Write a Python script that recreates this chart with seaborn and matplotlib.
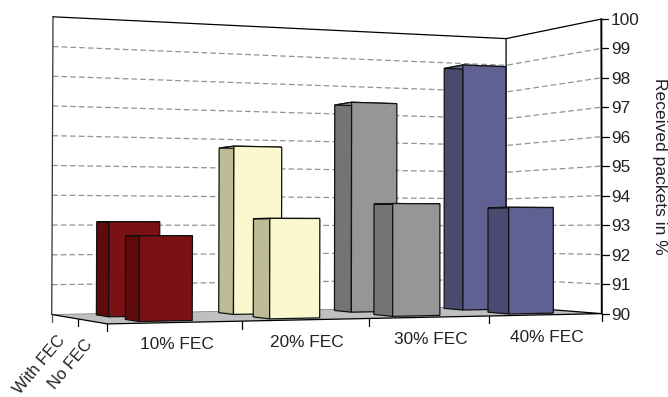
import numpy as np
import pandas as pd
import matplotlib
matplotlib.use("Agg")
import matplotlib.pyplot as plt
from matplotlib.patches import Polygon
from matplotlib.transforms import Transform
import seaborn as sns

# values
fec_labels = ["10% FEC", "20% FEC", "30% FEC", "40% FEC"]
with_fec = [93.1, 95.65, 97.25, 98.7]
no_fec = [92.65, 93.2, 93.7, 93.6]
depth_labels = ["With FEC", "No FEC"]
y_ticks = list(range(90, 101))

face_colors = ["#7b1113", "#fbf7ce", "#969696", "#606093"]
side_colors = ["#5f0a0c", "#bdbc97", "#747474", "#4a4a70"]
edge = "#111111"
text_color = "#222222"

sns.set_theme(style="white")
plt.rcParams["font.family"] = ["Liberation Sans", "DejaVu Sans"]

# camera: known box points (category, depth, value) -> pixel, fitted once
anchors = [
    (-0.5, 1, 90, 52, 314), (-0.5, 1, 100, 53, 17),
    (3.5, 1, 90, 506, 307), (3.5, 1, 100, 506, 38),
    (3.5, 0, 90, 601.5, 313), (3.5, 0, 100, 601.5, 19.5),
    (-0.5, 0, 90, 107, 324), (0.5, 0, 90, 242, 321.5),
    (1.5, 0, 90, 370, 318.5), (2.5, 0, 90, 489, 315.7),
]


def fit_camera(points):
    rows = []
    for x, d, z, u, v in points:
        p = [x, d, (z - 90) / 10, 1]
        rows.append(p + [0] * 4 + [-u / 100 * c for c in p])
        rows.append([0] * 4 + p + [-v / 100 * c for c in p])
    return np.linalg.svd(np.array(rows, dtype=float))[2][-1].reshape(3, 4)


camera = fit_camera(anchors)


def project(x, d, z):
    x, d, z = np.broadcast_arrays(np.asarray(x, float), np.asarray(d, float), np.asarray(z, float))
    p = np.stack([x, d, (z - 90) / 10, np.ones_like(x)], axis=-1)
    q = p @ camera.T
    return q[..., :2] / q[..., 2:] * 100


class FrontPlane(Transform):
    input_dims = 2
    output_dims = 2

    def __init__(self, bar_depth):
        super().__init__()
        self.bar_depth = bar_depth

    def transform_non_affine(self, values):
        values = np.asarray(values)
        return project(values[:, 0], self.bar_depth, values[:, 1])


fig = plt.figure(figsize=(6.68, 3.97), dpi=100)
ax = fig.add_axes([0, 0, 1, 1], zorder=0)
ax.set_xlim(0, 668)
ax.set_ylim(397, 0)
ax.axis("off")

# floor
floor = project([-0.5, 3.5, 3.5, -0.5], [1, 1, 0, 0], 90)
ax.add_patch(Polygon(floor, facecolor="#c0c0c0", edgecolor="none"))
ax.plot(*project([-0.5, 3.5], 1, 90).T, color="#777777", lw=0.5)
ax.plot(*project([-0.5, -0.5, 3.5, 3.5], [1, 0, 0, 1], 90).T, color="black", lw=0.9)

# gridlines on both walls
for z in y_ticks[1:-1]:
    ax.plot(*project([-0.5, 3.5, 3.5], [1, 1, 0], z).T, color="#929292", lw=0.9, ls=(0, (4.5, 2.5)))

# wall outline
ax.plot(*project([-0.5, -0.5], 1, [90, 100]).T, color="#333333", lw=0.9)
ax.plot(*project([-0.5, 3.5, 3.5, 3.5], [1, 1, 0, 0], [100, 100, 100, 90]).T, color="black", lw=0.9)
ax.plot(*project([3.5, 3.5], 1, [90, 100]).T, color="black", lw=0.9)
ax.plot(*project([3.5, 3.5], 0, [90, 100]).T, color="black", lw=1.3)

# right axis
for z in y_ticks:
    u, v = project(3.5, 0, z)
    ax.plot([u, u + 7], [v, v], color="black", lw=0.9)
    ax.text(u + 9.5, v, str(z), fontsize=12.4, color=text_color, ha="left", va="center_baseline")
ax.text(659, 166, "Received packets in %", rotation=270, fontsize=12.6, color=text_color,
        ha="center", va="center")

# bottom axis
for i in range(5):
    u, v = project(i - 0.5, 0, 90)
    ax.plot([u, u], [v, v + 7.5], color="black", lw=0.9)
for i, name in enumerate(fec_labels):
    u, v = project(i, 0, 90)
    ax.text(u + 0.5, v + 22.5, name, fontsize=12.4, color=text_color, ha="center", va="center")

# depth axis
for d in [1, 0.5]:
    u, v = project(-0.5, d, 90)
    ax.plot([u, u], [v, v + 7.5], color="black" if d == 0.5 else "#555555", lw=0.9)
for d, name in zip([0.75, 0.25], depth_labels):
    u, v = project(-0.5, d, 90)
    ax.text(u - 8, v + 16, name, rotation=50, rotation_mode="anchor", fontsize=12,
            color=text_color, ha="right", va="top")

# bars, back row first
bar_ax = fig.add_axes([0, 0, 1, 1], zorder=1)
bar_ax.patch.set_alpha(0)
df = pd.DataFrame({
    "fec": fec_labels * 2,
    "pct": with_fec + no_fec,
    "row": [depth_labels[0]] * 4 + [depth_labels[1]] * 4,
})
rows = [(depth_labels[0], 0.65, 0.87, 3), (depth_labels[1], 0.15, 0.37, 6)]
for name, d0, d1, zo in rows:
    n = len(bar_ax.patches)
    sns.barplot(data=df[df["row"] == name], x="fec", y="pct", hue="fec", palette=face_colors,
                legend=False, width=0.4, saturation=1, edgecolor=edge, linewidth=0.9,
                ax=bar_ax, zorder=zo)
    for i, bar in enumerate(bar_ax.patches[n:]):
        x0 = bar.get_x()
        x1 = x0 + bar.get_width()
        top = bar.get_height()
        bar.set_y(90)
        bar.set_height(top - 90)
        bar.set_transform(FrontPlane(d0) + ax.transData)
        bar.set_clip_on(False)
        side = project(x0, [d0, d1, d1, d0], [90, 90, top, top])
        cap = project([x0, x1, x1, x0], [d0, d0, d1, d1], top)
        for pts, color in [(side, side_colors[i]), (cap, face_colors[i])]:
            bar_ax.add_patch(Polygon(pts, facecolor=color, edgecolor=edge, linewidth=0.9,
                                     transform=ax.transData, zorder=zo - 1, clip_on=False))
bar_ax.axis("off")

fig.savefig("out.png", dpi=100)
